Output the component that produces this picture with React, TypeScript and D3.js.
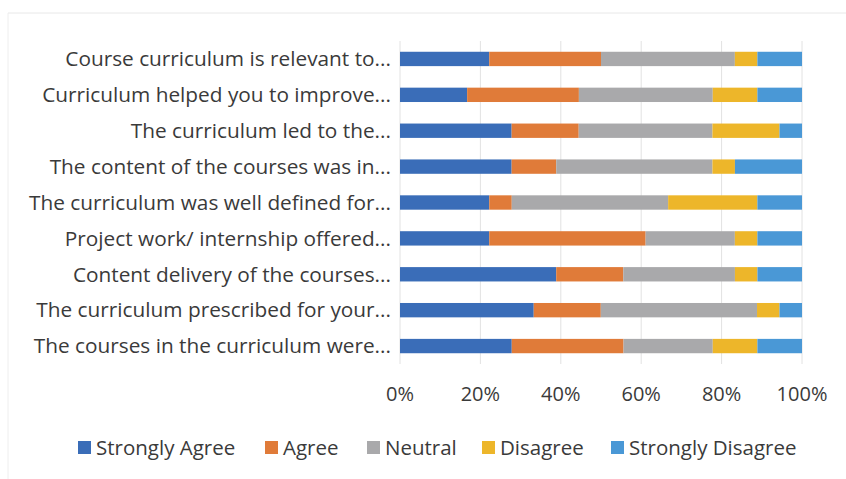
import React from "react";
import * as d3 from "d3";

const categories = [
  "Course curriculum is relevant to...",
  "Curriculum helped you to improve...",
  "The curriculum led to the...",
  "The content of the courses was in...",
  "The curriculum was well defined for...",
  "Project work/ internship offered...",
  "Content delivery of the courses...",
  "The curriculum prescribed for your...",
  "The courses in the curriculum were...",
];

const seriesNames = ["Strongly Agree", "Agree", "Neutral", "Disagree", "Strongly Disagree"];

const stronglyAgree = [22.2, 16.7, 27.8, 27.8, 22.2, 22.2, 38.9, 33.3, 27.8];
const agree = [27.8, 27.8, 16.7, 11.1, 5.6, 38.9, 16.7, 16.7, 27.8];
const neutral = [33.3, 33.3, 33.3, 38.9, 38.9, 22.2, 27.8, 38.9, 22.2];
const disagree = [5.6, 11.1, 16.7, 5.6, 22.2, 5.6, 5.6, 5.6, 11.1];
const stronglyDisagree = [11.1, 11.1, 5.6, 16.7, 11.1, 11.1, 11.1, 5.6, 11.1];

const tickValues = [0, 20, 40, 60, 80, 100];

const colors = ["#3A6DB8", "#E07B39", "#A9A9AB", "#EDB62A", "#4A98D6"];

const W = 846;
const H = 479;

export default function App() {
  const seriesValues = [stronglyAgree, agree, neutral, disagree, stronglyDisagree];
  const rows = categories.map((c, i) => {
    const r: any = { cat: c };
    seriesNames.forEach((s, k) => (r[s] = seriesValues[k][i]));
    return r;
  });
  const stack = d3.stack<any>().keys(seriesNames).offset(d3.stackOffsetExpand);
  const stacked = stack(rows);

  const x = d3.scaleLinear().domain([0, 1]).range([400, 802]);
  const y = d3
    .scaleBand<string>()
    .domain(categories)
    .range([41, 364])
    .paddingInner(0.6)
    .paddingOuter(0.3);

  const font = "'Open Sans', sans-serif";
  const textColor = "#3a3a3a";

  const legendTextX = [96, 283, 385, 500, 629];

  return (
    <svg
      width={W}
      height={H}
      style={{ position: "absolute", left: 0, top: 0, background: "#fff" }}
      fontFamily={font}
    >
      <line x1={8} x2={846} y1={13} y2={13} stroke="#e8e8e8" />
      <line x1={8} x2={8} y1={13} y2={479} stroke="#eeeeee" />
      {tickValues.map((t) => (
        <line
          key={"g" + t}
          x1={x(t / 100)}
          x2={x(t / 100)}
          y1={41}
          y2={364}
          stroke="#e2e2e2"
          strokeWidth={1}
        />
      ))}
      {stacked.map((s, k) => (
        <g key={s.key} fill={colors[k]}>
          {s.map((d, i) => (
            <rect
              key={i}
              x={x(d[0])}
              width={x(d[1]) - x(d[0])}
              y={y(categories[i])!}
              height={y.bandwidth()}
            />
          ))}
        </g>
      ))}
      {categories.map((c) => (
        <text
          key={c}
          x={391}
          y={y(c)! + y.bandwidth() / 2}
          dy="0.35em"
          textAnchor="end"
          fontSize={20.8}
          fill={textColor}
        >
          {c}
        </text>
      ))}
      {tickValues.map((t) => (
        <text
          key={"t" + t}
          x={x(t / 100)}
          y={401}
          textAnchor="middle"
          fontSize={20}
          fill={textColor}
        >
          {t + "%"}
        </text>
      ))}
      {seriesNames.map((s, k) => (
        <g key={"l" + s}>
          <rect x={legendTextX[k] - 18} y={441} width={13} height={13} fill={colors[k]} />
          <text x={legendTextX[k]} y={455} fontSize={20.5} fill={textColor}>
            {s}
          </text>
        </g>
      ))}
    </svg>
  );
}
